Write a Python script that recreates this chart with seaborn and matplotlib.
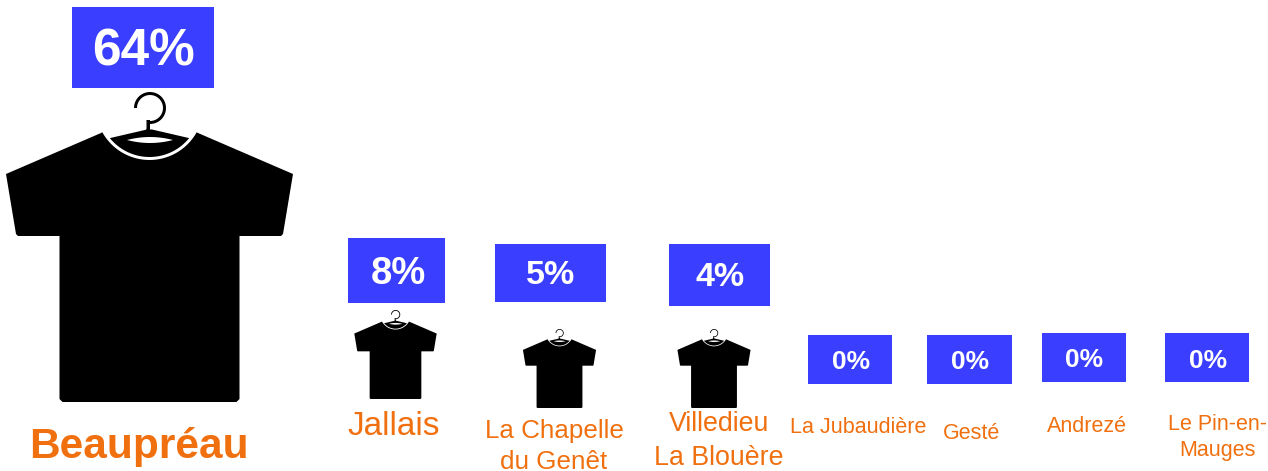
import numpy as np
import pandas as pd
import matplotlib
matplotlib.use("Agg")
import matplotlib.pyplot as plt
from matplotlib.path import Path
import seaborn as sns

# ---- data ----
communes = ["Beaupréau", "Jallais", "La Chapelle\ndu Genêt", "Villedieu\nLa Blouère",
            "La Jubaudière", "Gesté", "Andrezé", "Le Pin-en-\nMauges"]
shares = [64, 8, 5, 4, 0, 0, 0, 0]

# ---- layout (pixels) ----
box_left = [72, 348, 495, 669, 808, 927, 1042, 1165]
box_right = [214, 445, 606, 770, 892, 1012, 1126, 1249]
box_top = [7, 238, 244, 244, 335, 335, 333, 333]
box_bottom = [88, 303, 302, 306, 384, 384, 382, 382]
value_x = [143, 398, 551, 720, 851, 970, 1084, 1208]
value_base = [66, 284, 284, 286, 369, 369, 367, 368]
value_size = [37, 27.5, 24.5, 24.5, 19, 19, 19, 19]
label_x = [139, 394, 554, 719, 858, 972, 1087, 1217]
label_base = [458, 435, 469, 465, 433, 439, 432, 456]
label_size = [30.5, 24, 18.7, 19.3, 15.5, 15.5, 15.5, 15.5]
label_spacing = [1.0, 1.0, 1.35, 1.4, 1.0, 1.0, 1.0, 1.3]
label_bold = [True, False, False, False, False, False, False, False]
shirt_x = [149.5, 395.5, 559.5, 714]
shirt_y = [247, 354.5, 368.5, 368.5]
shirt_h = [310, 89, 79, 79]

BLUE = "#3A3FFF"
ORANGE = "#F0700F"
PT = 0.72  # points per pixel at dpi 100


def shirt_marker():
    """Compound T-shirt-with-hanger glyph; geometry in px of the largest shirt."""
    def arc(cx, cy, r, a0, a1, n=40):
        t = np.radians(np.linspace(a0, a1, n))
        return np.column_stack([cx + r * np.cos(t), cy + r * np.sin(t)])

    # neck circle: centre (149.5, 106), y grows downward here
    a_out = np.degrees(np.arctan2(133 - 106, 101 - 149.5))
    neck_out = arc(149.5, 106, 54, a_out, 180 - a_out)
    body = np.vstack([
        [[6, 174]], [[101, 133]], neck_out, [[198, 133]], [[293, 174]], [[283, 234]],
        [[281, 236]], [[239.5, 236]], [[239.5, 399]], [[236.5, 402]], [[62.5, 402]],
        [[59.5, 399]], [[59.5, 236]], [[18, 236]], [[16, 234]],
    ])
    a_in = np.degrees(np.arctan2(138 - 106, 110 - 149.5))
    bowl = np.vstack([
        arc(149.5, 106, 51, a_in, 180 - a_in),
        [[152, 129.5], [147, 129.5]],
    ])
    xl = np.linspace(-23, 23, 30)
    lens_top = 140 - 3 * (1 - (xl / 23) ** 2)
    lens_bot = 140 + 3 * (1 - (xl / 23) ** 2)
    lens = np.vstack([np.column_stack([150 + xl, lens_top]),
                      np.column_stack([150 + xl[::-1], lens_bot[::-1]])])
    hook = np.vstack([arc(150, 108, 16, 180, 450), arc(150, 108, 13, 450, 180)])
    stem = np.array([[146.5, 120], [150, 120], [150, 132], [146.5, 132]], float)

    def area(p):
        x, y = p[:, 0], p[:, 1]
        return 0.5 * np.sum(x * np.roll(y, -1) - np.roll(x, -1) * y)

    verts, codes = [], []
    for poly, hole in [(body, False), (bowl, False), (lens, True), (hook, False), (stem, False)]:
        if (area(poly) > 0) == hole:
            poly = poly[::-1]
        u = (poly[:, 0] - 149.5) / 310
        v = -(poly[:, 1] - 247) / 310
        pts = np.column_stack([u, v])
        verts += list(pts) + [pts[0]]
        codes += [Path.MOVETO] + [Path.LINETO] * (len(pts) - 1) + [Path.CLOSEPOLY]
    return Path(np.array(verts), codes)


sns.set_theme(style="white")
plt.rcParams["font.family"] = ["Liberation Sans", "DejaVu Sans"]

fig = plt.figure(figsize=(12.68, 4.71), dpi=100)
ax = fig.add_axes([0, 0, 1, 1])

shirts = pd.DataFrame({"x": shirt_x, "y": shirt_y, "h": shirt_h, "commune": communes[:4]})
sns.scatterplot(data=shirts, x="x", y="y", marker=shirt_marker(),
                s=(shirts["h"] * PT) ** 2, color="black", edgecolor="none",
                linewidth=0, legend=False, ax=ax)
ax.set_xlim(0, 1268)
ax.set_ylim(471, 0)
ax.axis("off")

left, right = np.array(box_left), np.array(box_right)
top, bottom = np.array(box_top), np.array(box_bottom)
ax.bar((left + right) / 2, bottom - top, width=right - left, bottom=top,
       color=BLUE, linewidth=0)

for i, (name, share) in enumerate(zip(communes, shares)):
    ax.text(value_x[i], value_base[i], f"{share}%", color="white", weight="bold",
            fontsize=value_size[i], ha="center", va="baseline")
    ax.text(label_x[i], label_base[i], name, color=ORANGE,
            weight="bold" if label_bold[i] else "normal",
            fontsize=label_size[i], ha="center", va="baseline",
            multialignment="center", linespacing=label_spacing[i], clip_on=False)

fig.savefig("out.png", dpi=100, facecolor="white")
